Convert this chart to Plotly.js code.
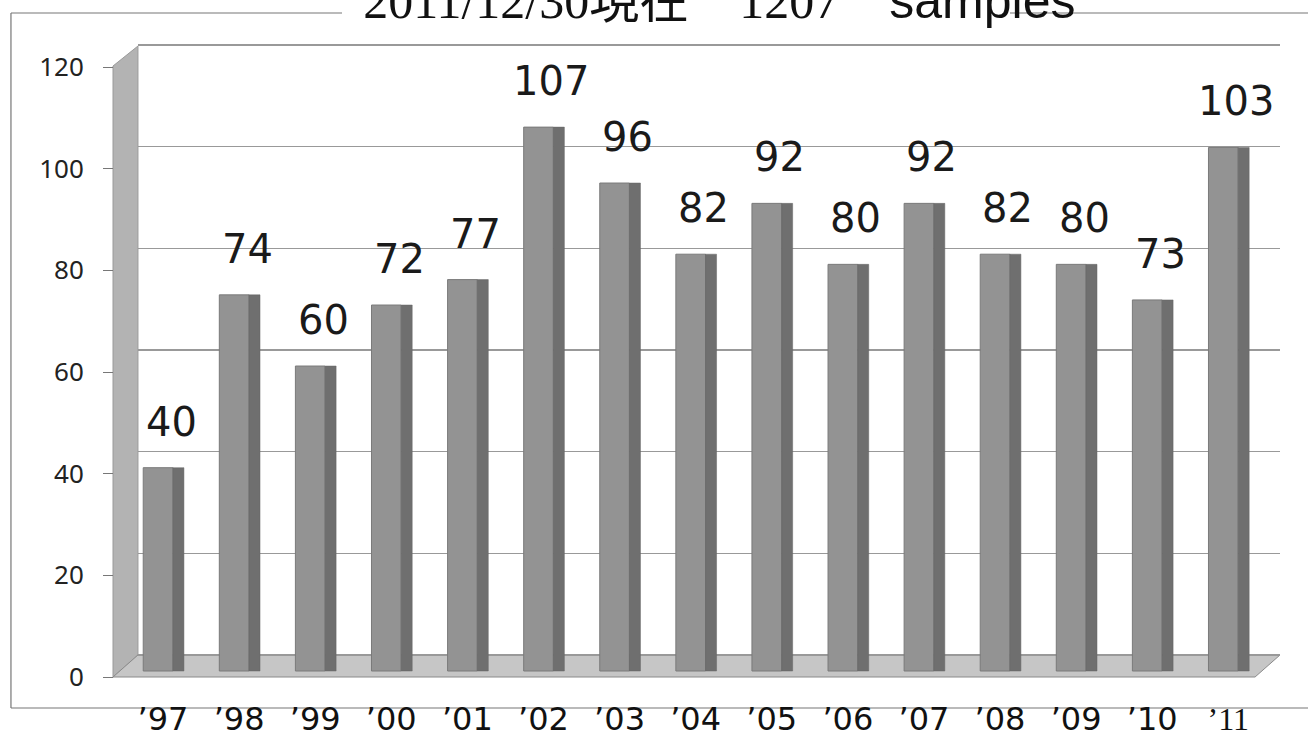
<!DOCTYPE html>
<html>
<head>
<meta charset="utf-8">
<script src="https://cdn.plot.ly/plotly-3.0.1.min.js"></script>
<style>
  html, body { margin: 0; padding: 0; background: #ffffff; }
  #chart { width: 1308px; height: 741px; }
</style>
</head>
<body>
<div id="chart"></div>
<script>
// ---- data ----
const categories = ["’97","’98","’99","’00","’01","’02","’03","’04","’05","’06","’07","’08","’09","’10","’11"];
const tickLabels = ["’97","’98","’99","’00","’01","’02","’03","’04","’05","’06","’07","’08","’09","’10",
                    "<span style=\"font-family:'Liberation Serif',serif\">’11</span>"];
const samples = [40, 74, 60, 72, 77, 107, 96, 82, 92, 80, 92, 82, 80, 73, 103];
const yTicks = [0, 20, 40, 60, 80, 100, 120];
const titleText = "2011/12/30現在　1207　<span style=\"font-family:'Liberation Sans',sans-serif\">samples</span>";

// ---- traces ----
const frontFace = {
  type: 'bar', x: categories, y: samples, yaxis: 'y',
  width: 0.39, offset: -0.26,
  marker: { color: '#939393', line: { color: '#7a7a7a', width: 1 } },
  hoverinfo: 'x+y', showlegend: false
};
const sideFace = {
  type: 'bar', x: categories, y: samples, yaxis: 'y',
  width: 0.145, offset: 0.13,
  marker: { color: '#6f6f6f', line: { color: '#666666', width: 0.5 } },
  hoverinfo: 'skip', showlegend: false
};
const tickAxisHolder = { type: 'scatter', x: [], y: [], yaxis: 'y2', hoverinfo: 'skip', showlegend: false };
const backGridHolder = { type: 'scatter', x: [], y: [], yaxis: 'y3', hoverinfo: 'skip', showlegend: false };

const annotations = categories.map((c, i) => ({
  x: c, y: samples[i], xref: 'x', yref: 'y',
  text: String(samples[i]), showarrow: false,
  yanchor: 'middle', yshift: 46, xshift: 8,
  font: { family: 'DejaVu Sans, sans-serif', size: 40, color: '#1a1a1a' }
}));

const layout = {
  width: 1308, height: 741,
  margin: { l: 103, r: 28, t: 44, b: 64, pad: 0 },
  paper_bgcolor: '#ffffff', plot_bgcolor: 'rgba(0,0,0,0)',
  barmode: 'overlay',
  title: {
    text: titleText, x: 0.55, xanchor: 'center',
    y: 1, yref: 'container', yanchor: 'middle',
    font: { family: "'Liberation Serif', 'Noto Sans CJK JP', serif", size: 50, color: '#111' }
  },
  xaxis: {
    type: 'category', domain: [0.02974, 1], range: [-0.3286, 14.68],
    tickmode: 'array', tickvals: categories, ticktext: tickLabels,
    showgrid: false, zeroline: false, showline: false, ticks: '',
    ticklabelstandoff: 20,
    tickfont: { family: 'DejaVu Sans, sans-serif', size: 32, color: '#111' }
  },
  yaxis: {
    range: [-1.18, 123.35], showticklabels: false, ticks: '',
    showgrid: false, zeroline: false, showline: false
  },
  yaxis2: {
    range: [0, 124.53], tickmode: 'array', tickvals: yTicks, ticktext: yTicks.map(String),
    overlaying: 'y', side: 'left', anchor: 'free', position: 0.0085,
    showgrid: false, zeroline: false, showline: false,
    ticks: 'outside', ticklen: 10, tickcolor: '#777', tickwidth: 1,
    ticklabelstandoff: 14,
    tickfont: { family: 'Noto Sans, sans-serif', size: 26, color: '#222' }
  },
  yaxis3: {
    range: [-4.33, 120.2], overlaying: 'y', side: 'right', anchor: 'x',
    tickmode: 'array', tickvals: yTicks, showticklabels: false, ticks: '',
    showgrid: true, gridcolor: '#999999', gridwidth: 1.2, zeroline: false, showline: false
  },
  annotations: annotations,
  shapes: [
    // frame
    { type: 'line', xref: 'paper', yref: 'paper', layer: 'below',
      x0: -0.0782, x1: -0.0782, y0: 1.049, y1: -0.049, line: { color: '#777', width: 1.2 } },
    { type: 'line', xref: 'paper', yref: 'paper', layer: 'below',
      x0: -0.0782, x1: 1.0238, y0: -0.049, y1: -0.049, line: { color: '#777', width: 1.2 } },
    { type: 'line', xref: 'paper', yref: 'paper', layer: 'below',
      x0: -0.0782, x1: 0.2031, y0: 1.049, y1: 1.049, line: { color: '#777', width: 1.2 } },
    { type: 'line', xref: 'paper', yref: 'paper', layer: 'below',
      x0: 0.7706, x1: 1.0238, y0: 1.049, y1: 1.049, line: { color: '#777', width: 1.2 } },
    // left wall
    { type: 'path', xref: 'paper', yref: 'paper', layer: 'below',
      path: 'M 0.0085 0 L 0.0085 0.9652 L 0.0297 0.9968 L 0.0297 0.0348 Z',
      fillcolor: '#b3b3b3', line: { color: '#9a9a9a', width: 1 } },
    // floor
    { type: 'path', xref: 'paper', yref: 'paper', layer: 'below',
      path: 'M 0.0085 0 L 0.9788 0 L 1 0.0348 L 0.0297 0.0348 Z',
      fillcolor: '#c6c6c6', line: { color: '#8a8a8a', width: 1 } }
  ]
};

Plotly.newPlot('chart', [backGridHolder, tickAxisHolder, frontFace, sideFace], layout, { displayModeBar: false, staticPlot: true });
</script>
</body>
</html>
